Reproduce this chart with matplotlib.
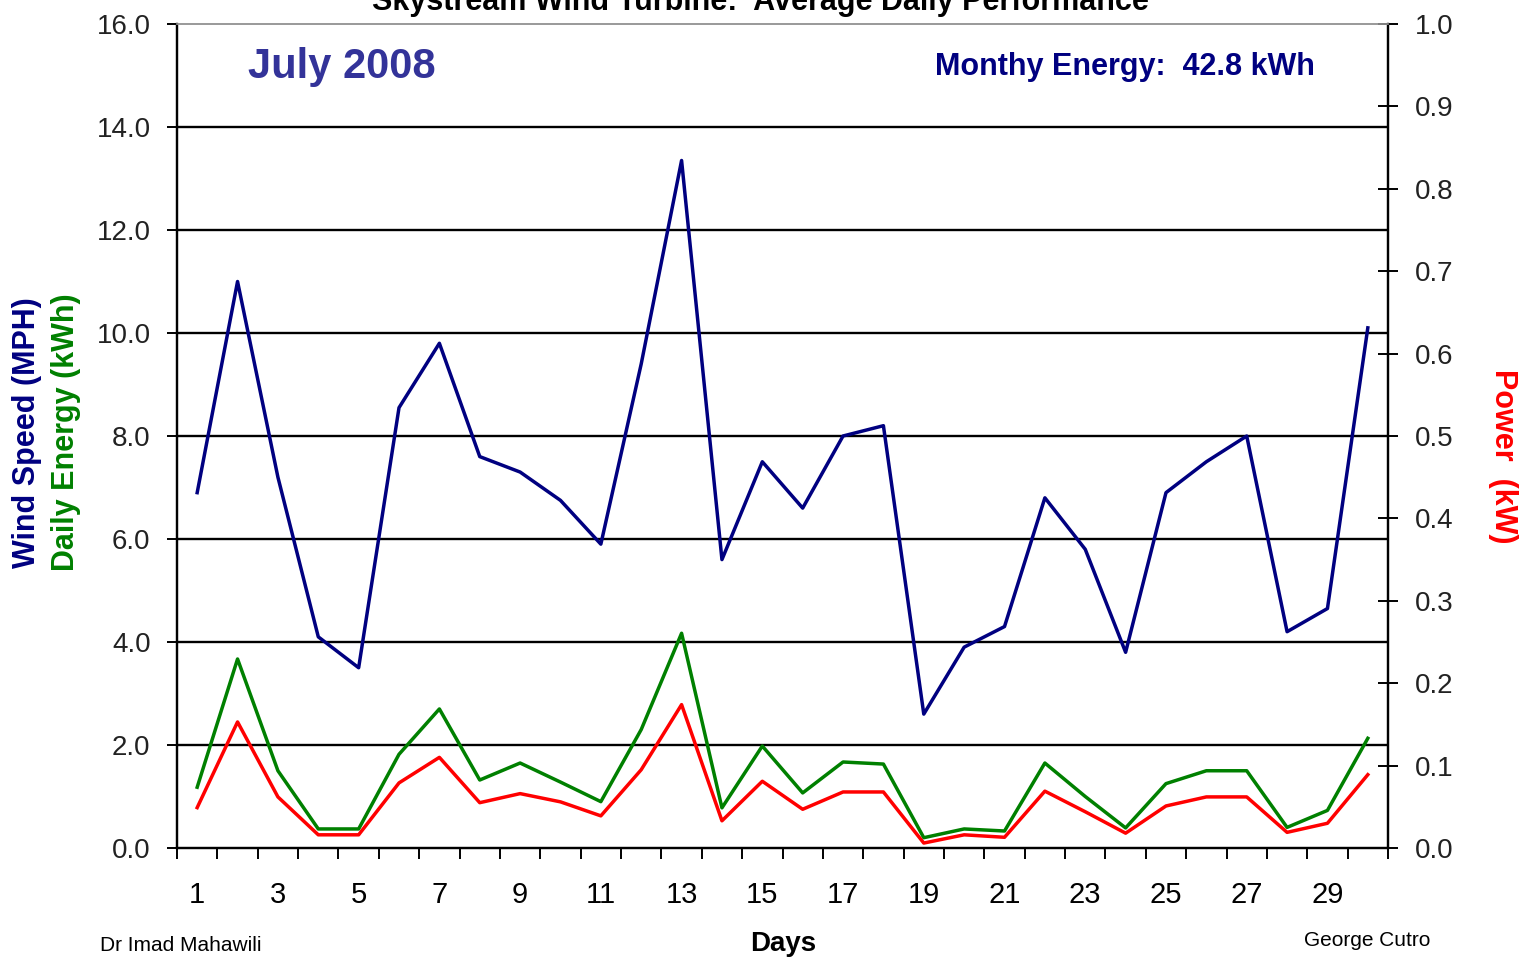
import numpy as np
import matplotlib
matplotlib.use('Agg')
import matplotlib.pyplot as plt
from matplotlib.ticker import FixedLocator, FormatStrFormatter

plt.rcParams['font.family'] = ['Liberation Sans', 'DejaVu Sans']

# Data
days = np.arange(1, 31)
wind_mph = [6.9, 11.0, 7.2, 4.1, 3.5, 8.55, 9.8, 7.6, 7.3, 6.75,
            5.9, 9.4, 13.35, 5.6, 7.5, 6.6, 8.0, 8.2, 2.6, 3.9,
            4.3, 6.8, 5.8, 3.8, 6.9, 7.5, 8.0, 4.2, 4.65, 10.1]
energy_kwh = [1.18, 3.67, 1.5, 0.37, 0.37, 1.82, 2.7, 1.32, 1.65, 1.28,
              0.9, 2.3, 4.17, 0.78, 1.98, 1.07, 1.67, 1.63, 0.2, 0.37,
              0.33, 1.65, 1.0, 0.39, 1.25, 1.5, 1.5, 0.4, 0.73, 2.13]
power_kw = [0.049, 0.153, 0.062, 0.016, 0.016, 0.079, 0.11, 0.055, 0.066, 0.056,
            0.039, 0.095, 0.174, 0.033, 0.081, 0.047, 0.068, 0.068, 0.006, 0.016,
            0.013, 0.069, 0.044, 0.018, 0.051, 0.062, 0.062, 0.019, 0.030, 0.089]
day_labels = [str(d) for d in range(1, 30, 2)]

navy = '#000080'
green = '#008000'
red = '#FF0000'
narrow = ['Liberation Sans Narrow', 'Liberation Sans', 'DejaVu Sans']

fig = plt.figure(figsize=(15.3, 9.63), dpi=100)
ax = fig.add_axes([177/1530, 1 - 848/963, (1388-177)/1530, (848-24)/963])
ax2 = ax.twinx()

# lines
ax.plot(days, wind_mph, color=navy, lw=2.5, zorder=4)
ax.plot(days, energy_kwh, color=green, lw=2.5, zorder=4)
ax2.plot(days, power_kw, color=red, lw=2.5, zorder=4)

ax.set_xlim(0.5, 30.5)
ax.set_ylim(0, 16)
ax2.set_ylim(0, 1.0)

# grid on left scale
for g in range(2, 16, 2):
    ax.axhline(g, color='black', lw=1.7, zorder=1)

# spines
for a in (ax, ax2):
    a.spines['top'].set_color('#999999')
    a.spines['top'].set_linewidth(1.2)
    a.spines['left'].set_linewidth(1.6)
    a.spines['right'].set_linewidth(1.6)
    a.spines['bottom'].set_linewidth(1.6)

# x ticks: marks between days, labels on odd days
ax.xaxis.set_major_locator(FixedLocator(np.arange(0.5, 31, 1)))
ax.xaxis.set_minor_locator(FixedLocator(range(1, 30, 2)))
ax.set_xticklabels([], minor=False)
ax.set_xticklabels(day_labels, minor=True, family=narrow, fontsize=21)
ax.tick_params(axis='x', which='major', direction='out', length=8, width=1.4)
ax.tick_params(axis='x', which='minor', length=0, pad=24)

ax.set_yticks(np.arange(0, 16.1, 2))
ax.yaxis.set_major_formatter(FormatStrFormatter('%.1f'))
ax.tick_params(axis='y', direction='out', length=7, width=1.4, labelsize=20,
               pad=12, labelcolor='#222222')

ax2.set_yticks(np.arange(0, 1.01, 0.1))
ax2.yaxis.set_major_formatter(FormatStrFormatter('%.1f'))
ax2.tick_params(axis='y', direction='inout', length=14, width=1.4, labelsize=20,
                pad=12, labelcolor='#222222')

# axis titles
fig.text(27/1530, 1 - 433/963, 'Wind Speed (MPH)', rotation=90, color=navy,
         fontsize=22, fontweight='bold', ha='center', va='center')
fig.text(66/1530, 1 - 432/963, 'Daily Energy (kWh)', rotation=90, color=green,
         fontsize=22, fontweight='bold', ha='center', va='center')
fig.text(1503/1530, 1 - 456/963, 'Power  (kW)', rotation=-90, color=red,
         fontsize=22, fontweight='bold', ha='center', va='center')
fig.text(783/1530, 1 - 944/963, 'Days', fontsize=20, fontweight='bold',
         ha='center', va='center', family=narrow)

# annotations
fig.text(760/1530, 1 - 10/963, 'Skystream Wind Turbine:  Average Daily Performance',
         fontsize=22, fontweight='bold', ha='center', va='baseline')
fig.text(248/1530, 1 - 67/963, 'July 2008', color='#333399', fontsize=30,
         fontweight='bold', ha='left', va='center')
fig.text(1315/1530, 1 - 67/963, 'Monthy Energy:  42.8 kWh', color=navy, fontsize=22,
         fontweight='bold', ha='right', va='center')
fig.text(100/1530, 1 - 945/963, 'Dr Imad Mahawili', fontsize=15, family=narrow,
         ha='left', va='center')
fig.text(1430/1530, 1 - 940/963, 'George Cutro', fontsize=15, family=narrow,
         ha='right', va='center')

fig.savefig('out.png', dpi=100)
